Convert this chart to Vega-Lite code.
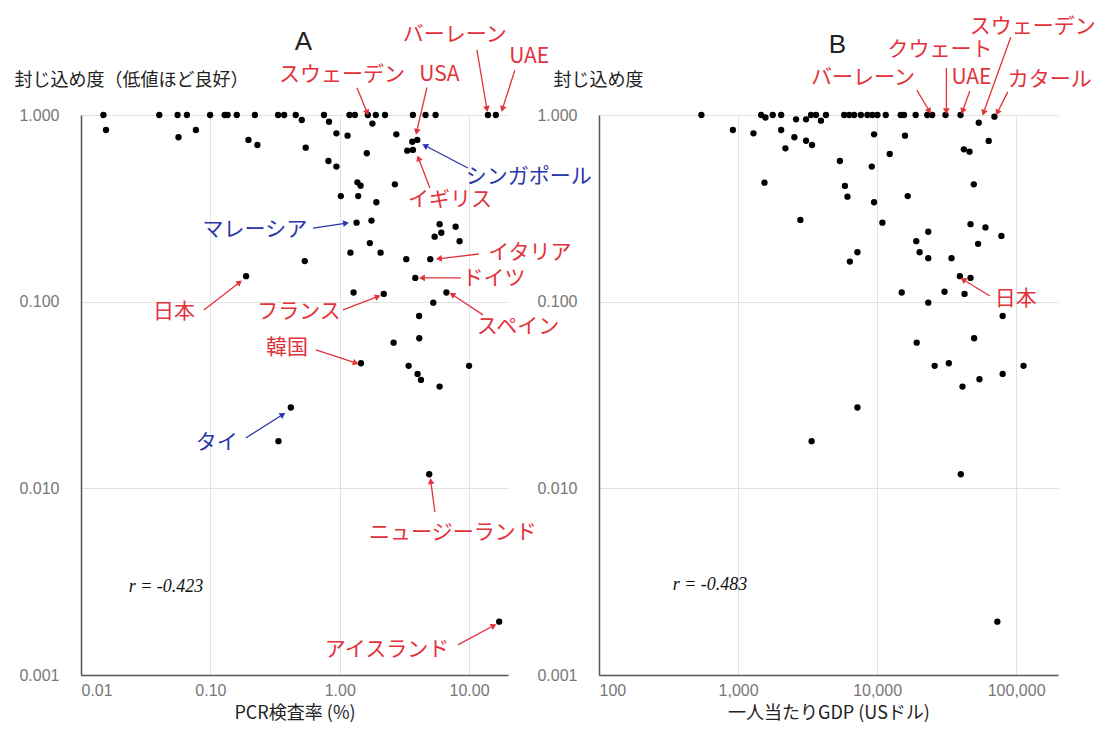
{
  "$schema": "https://vega.github.io/schema/vega-lite/v6.json",
  "autosize": {"type": "none"},
  "padding": {"left": 81, "top": 115, "right": 1025, "bottom": 616},
  "background": "white",
  "config": {
    "view": {"stroke": null},
    "font": "Liberation Sans",
    "axis": {
      "grid": true,
      "gridColor": "#e2e2e2",
      "gridWidth": 1,
      "domainColor": "#555555",
      "domainWidth": 1.5,
      "ticks": false,
      "labelFont": "Liberation Sans",
      "labelFontSize": 16,
      "labelColor": "#777777",
      "titleFont": "Noto Sans CJK JP",
      "titleFontSize": 18,
      "titleFontWeight": "normal",
      "titleColor": "#222222"
    },
    "title": {"font": "Liberation Sans", "fontSize": 26, "fontWeight": "normal", "color": "#222222"}
  },
  "datasets": {
    "pcr": [
      {"pcr_test_rate": 0.0149, "containment": 1},
      {"pcr_test_rate": 0.0403, "containment": 1},
      {"pcr_test_rate": 0.0558, "containment": 1},
      {"pcr_test_rate": 0.0659, "containment": 1},
      {"pcr_test_rate": 0.0996, "containment": 1},
      {"pcr_test_rate": 0.129, "containment": 1},
      {"pcr_test_rate": 0.136, "containment": 1},
      {"pcr_test_rate": 0.160, "containment": 1},
      {"pcr_test_rate": 0.221, "containment": 1},
      {"pcr_test_rate": 0.334, "containment": 1},
      {"pcr_test_rate": 0.372, "containment": 1},
      {"pcr_test_rate": 0.457, "containment": 1},
      {"pcr_test_rate": 0.509, "containment": 0.94},
      {"pcr_test_rate": 0.756, "containment": 1},
      {"pcr_test_rate": 0.827, "containment": 0.92},
      {"pcr_test_rate": 1.19, "containment": 1},
      {"pcr_test_rate": 1.31, "containment": 1},
      {"pcr_test_rate": 1.65, "containment": 1},
      {"pcr_test_rate": 1.79, "containment": 0.90},
      {"pcr_test_rate": 1.90, "containment": 1},
      {"pcr_test_rate": 2.24, "containment": 1},
      {"pcr_test_rate": 3.68, "containment": 1},
      {"pcr_test_rate": 4.61, "containment": 1},
      {"pcr_test_rate": 5.51, "containment": 1},
      {"pcr_test_rate": 14.0, "containment": 1},
      {"pcr_test_rate": 16.1, "containment": 1},
      {"pcr_test_rate": 0.0156, "containment": 0.831},
      {"pcr_test_rate": 0.0567, "containment": 0.760},
      {"pcr_test_rate": 0.0773, "containment": 0.831},
      {"pcr_test_rate": 0.197, "containment": 0.735},
      {"pcr_test_rate": 0.231, "containment": 0.691},
      {"pcr_test_rate": 0.546, "containment": 0.668},
      {"pcr_test_rate": 0.943, "containment": 0.798},
      {"pcr_test_rate": 1.15, "containment": 0.775},
      {"pcr_test_rate": 2.74, "containment": 0.788},
      {"pcr_test_rate": 3.64, "containment": 0.719},
      {"pcr_test_rate": 3.98, "containment": 0.735},
      {"pcr_test_rate": 3.33, "containment": 0.644},
      {"pcr_test_rate": 3.68, "containment": 0.650},
      {"pcr_test_rate": 1.62, "containment": 0.624},
      {"pcr_test_rate": 0.818, "containment": 0.567},
      {"pcr_test_rate": 0.943, "containment": 0.529},
      {"pcr_test_rate": 1.37, "containment": 0.436},
      {"pcr_test_rate": 1.45, "containment": 0.418},
      {"pcr_test_rate": 2.67, "containment": 0.425},
      {"pcr_test_rate": 1.02, "containment": 0.368},
      {"pcr_test_rate": 1.39, "containment": 0.368},
      {"pcr_test_rate": 1.92, "containment": 0.341},
      {"pcr_test_rate": 1.35, "containment": 0.265},
      {"pcr_test_rate": 1.76, "containment": 0.272},
      {"pcr_test_rate": 1.71, "containment": 0.206},
      {"pcr_test_rate": 1.21, "containment": 0.183},
      {"pcr_test_rate": 2.07, "containment": 0.183},
      {"pcr_test_rate": 0.537, "containment": 0.165},
      {"pcr_test_rate": 3.27, "containment": 0.169},
      {"pcr_test_rate": 5.01, "containment": 0.169},
      {"pcr_test_rate": 5.92, "containment": 0.260},
      {"pcr_test_rate": 7.87, "containment": 0.252},
      {"pcr_test_rate": 5.42, "containment": 0.223},
      {"pcr_test_rate": 6.10, "containment": 0.234},
      {"pcr_test_rate": 8.45, "containment": 0.211},
      {"pcr_test_rate": 3.84, "containment": 0.134},
      {"pcr_test_rate": 0.189, "containment": 0.137},
      {"pcr_test_rate": 1.28, "containment": 0.112},
      {"pcr_test_rate": 2.19, "containment": 0.110},
      {"pcr_test_rate": 6.68, "containment": 0.112},
      {"pcr_test_rate": 5.29, "containment": 0.0988},
      {"pcr_test_rate": 4.11, "containment": 0.0838},
      {"pcr_test_rate": 4.12, "containment": 0.0637},
      {"pcr_test_rate": 2.61, "containment": 0.0603},
      {"pcr_test_rate": 1.46, "containment": 0.0468},
      {"pcr_test_rate": 3.41, "containment": 0.0453},
      {"pcr_test_rate": 4.00, "containment": 0.0410},
      {"pcr_test_rate": 4.25, "containment": 0.0381},
      {"pcr_test_rate": 5.92, "containment": 0.0351},
      {"pcr_test_rate": 10.0, "containment": 0.0453},
      {"pcr_test_rate": 0.419, "containment": 0.0271},
      {"pcr_test_rate": 0.336, "containment": 0.0179},
      {"pcr_test_rate": 4.92, "containment": 0.0119},
      {"pcr_test_rate": 17.1, "containment": 0.00193}
    ],
    "gdp": [
      {"gdp_per_capita": 545, "containment": 1},
      {"gdp_per_capita": 1466, "containment": 1},
      {"gdp_per_capita": 1574, "containment": 0.97},
      {"gdp_per_capita": 1776, "containment": 1},
      {"gdp_per_capita": 2042, "containment": 1},
      {"gdp_per_capita": 2614, "containment": 0.948},
      {"gdp_per_capita": 3083, "containment": 0.948},
      {"gdp_per_capita": 3349, "containment": 1},
      {"gdp_per_capita": 3637, "containment": 1},
      {"gdp_per_capita": 3948, "containment": 0.932},
      {"gdp_per_capita": 4288, "containment": 1},
      {"gdp_per_capita": 5800, "containment": 1},
      {"gdp_per_capita": 6300, "containment": 1},
      {"gdp_per_capita": 6840, "containment": 1},
      {"gdp_per_capita": 7640, "containment": 1},
      {"gdp_per_capita": 8520, "containment": 1},
      {"gdp_per_capita": 9250, "containment": 1},
      {"gdp_per_capita": 10050, "containment": 1},
      {"gdp_per_capita": 11540, "containment": 1},
      {"gdp_per_capita": 14790, "containment": 1},
      {"gdp_per_capita": 15620, "containment": 1},
      {"gdp_per_capita": 18930, "containment": 1},
      {"gdp_per_capita": 22950, "containment": 1},
      {"gdp_per_capita": 24900, "containment": 1},
      {"gdp_per_capita": 31060, "containment": 1},
      {"gdp_per_capita": 39810, "containment": 1},
      {"gdp_per_capita": 53830, "containment": 0.909},
      {"gdp_per_capita": 69800, "containment": 0.98},
      {"gdp_per_capita": 918, "containment": 0.831},
      {"gdp_per_capita": 1291, "containment": 0.798},
      {"gdp_per_capita": 2042, "containment": 0.831},
      {"gdp_per_capita": 2541, "containment": 0.760},
      {"gdp_per_capita": 2191, "containment": 0.663},
      {"gdp_per_capita": 3083, "containment": 0.728},
      {"gdp_per_capita": 3404, "containment": 0.691},
      {"gdp_per_capita": 9510, "containment": 0.788},
      {"gdp_per_capita": 15870, "containment": 0.775},
      {"gdp_per_capita": 5400, "containment": 0.567},
      {"gdp_per_capita": 9160, "containment": 0.529},
      {"gdp_per_capita": 12330, "containment": 0.618},
      {"gdp_per_capita": 42070, "containment": 0.655},
      {"gdp_per_capita": 46200, "containment": 0.636},
      {"gdp_per_capita": 63500, "containment": 0.726},
      {"gdp_per_capita": 1549, "containment": 0.434},
      {"gdp_per_capita": 5870, "containment": 0.417},
      {"gdp_per_capita": 6120, "containment": 0.365},
      {"gdp_per_capita": 9510, "containment": 0.341},
      {"gdp_per_capita": 16600, "containment": 0.368},
      {"gdp_per_capita": 49600, "containment": 0.425},
      {"gdp_per_capita": 2806, "containment": 0.274},
      {"gdp_per_capita": 10920, "containment": 0.265},
      {"gdp_per_capita": 23330, "containment": 0.237},
      {"gdp_per_capita": 19140, "containment": 0.211},
      {"gdp_per_capita": 46970, "containment": 0.260},
      {"gdp_per_capita": 60140, "containment": 0.250},
      {"gdp_per_capita": 78340, "containment": 0.225},
      {"gdp_per_capita": 53240, "containment": 0.204},
      {"gdp_per_capita": 7220, "containment": 0.184},
      {"gdp_per_capita": 6370, "containment": 0.164},
      {"gdp_per_capita": 20230, "containment": 0.184},
      {"gdp_per_capita": 23330, "containment": 0.171},
      {"gdp_per_capita": 34280, "containment": 0.171},
      {"gdp_per_capita": 39360, "containment": 0.137},
      {"gdp_per_capita": 46970, "containment": 0.134},
      {"gdp_per_capita": 15030, "containment": 0.112},
      {"gdp_per_capita": 30550, "containment": 0.113},
      {"gdp_per_capita": 42540, "containment": 0.110},
      {"gdp_per_capita": 23330, "containment": 0.0988},
      {"gdp_per_capita": 80000, "containment": 0.0838},
      {"gdp_per_capita": 19260, "containment": 0.0603},
      {"gdp_per_capita": 49890, "containment": 0.0637},
      {"gdp_per_capita": 25940, "containment": 0.0453},
      {"gdp_per_capita": 32810, "containment": 0.0468},
      {"gdp_per_capita": 41120, "containment": 0.0351},
      {"gdp_per_capita": 54450, "containment": 0.0384},
      {"gdp_per_capita": 80000, "containment": 0.0410},
      {"gdp_per_capita": 113000, "containment": 0.0453},
      {"gdp_per_capita": 7220, "containment": 0.0271},
      {"gdp_per_capita": 3381, "containment": 0.0179},
      {"gdp_per_capita": 40000, "containment": 0.0119},
      {"gdp_per_capita": 73260, "containment": 0.00193}
    ],
    "annA": [
      {"label": "スウェーデン", "group": "other", "lx": 1.04, "ly": 1.64, "ax": 1.36, "ay": 1.40, "bx": 1.62, "by": 1.04},
      {"label": "USA", "group": "other", "lx": 5.89, "ly": 1.64, "ax": 4.72, "ay": 1.40, "bx": 3.95, "by": 0.821},
      {"label": "バーレーン", "group": "other", "lx": 7.76, "ly": 2.68, "ax": 11.5, "ay": 2.23, "bx": 13.7, "by": 1.09},
      {"label": "UAE", "group": "other", "lx": 29.2, "ly": 2.05, "ax": 22.6, "ay": 1.74, "bx": 18.2, "by": 1.09},
      {"label": "シンガポール", "group": "ASEAN", "lx": 29.0, "ly": 0.466, "ax": 9.79, "ay": 0.520, "bx": 4.63, "by": 0.682},
      {"label": "イギリス", "group": "other", "lx": 7.11, "ly": 0.350, "ax": 4.98, "ay": 0.406, "bx": 4.09, "by": 0.581},
      {"label": "マレーシア", "group": "ASEAN", "lx": 0.221, "ly": 0.242, "ax": 0.621, "ay": 0.248, "bx": 1.10, "by": 0.263},
      {"label": "イタリア", "group": "other", "lx": 29.5, "ly": 0.182, "ax": 11.9, "ay": 0.180, "bx": 5.94, "by": 0.170},
      {"label": "ドイツ", "group": "other", "lx": 15.6, "ly": 0.132, "ax": 8.65, "ay": 0.134, "bx": 4.40, "by": 0.134},
      {"label": "スペイン", "group": "other", "lx": 23.9, "ly": 0.0732, "ax": 12.8, "ay": 0.0850, "bx": 7.50, "by": 0.1086},
      {"label": "フランス", "group": "other", "lx": 0.484, "ly": 0.0881, "ax": 1.06, "ay": 0.0903, "bx": 1.94, "by": 0.106},
      {"label": "日本", "group": "other", "lx": 0.0524, "ly": 0.0881, "ax": 0.0892, "ay": 0.0903, "bx": 0.166, "by": 0.126},
      {"label": "韓国", "group": "other", "lx": 0.391, "ly": 0.0565, "ax": 0.654, "ay": 0.0551, "bx": 1.31, "by": 0.0471},
      {"label": "タイ", "group": "ASEAN", "lx": 0.112, "ly": 0.0175, "ax": 0.188, "ay": 0.0186, "bx": 0.358, "by": 0.0247},
      {"label": "ニュージーランド", "group": "other", "lx": 7.50, "ly": 0.00577, "ax": 5.44, "ay": 0.00748, "bx": 5.07, "by": 0.0108},
      {"label": "アイスランド", "group": "other", "lx": 2.32, "ly": 0.00136, "ax": 8.19, "ay": 0.00145, "bx": 15.3, "by": 0.00183}
    ],
    "annB": [
      {"label": "スウェーデン", "group": "other", "lx": 131800, "ly": 2.96, "ax": 91600, "ay": 2.62, "bx": 58600, "by": 1.04},
      {"label": "クウェート", "group": "other", "lx": 28290, "ly": 2.23, "ax": 31500, "ay": 1.785, "bx": 31500, "by": 1.06},
      {"label": "バーレーン", "group": "other", "lx": 7910, "ly": 1.58, "ax": 19320, "ay": 1.36, "bx": 23550, "by": 1.06},
      {"label": "UAE", "group": "other", "lx": 47750, "ly": 1.58, "ax": 46450, "ay": 1.345, "bx": 41400, "by": 1.06},
      {"label": "カタール", "group": "other", "lx": 174500, "ly": 1.54, "ax": 87100, "ay": 1.33, "bx": 73800, "by": 1.04},
      {"label": "日本", "group": "other", "lx": 99500, "ly": 0.1034, "ax": 64700, "ay": 0.1073, "bx": 42100, "by": 0.1306}
    ]
  },
  "spacing": 91,
  "bounds": "flush",
  "hconcat": [
    {
      "width": 427,
      "height": 560,
      "title": {"text": "A", "anchor": "middle", "frame": "group", "dx": 9, "offset": -31},
      "layer": [
        {
          "data": {"name": "pcr"},
          "mark": {"type": "circle", "size": 40, "color": "#000000", "opacity": 1},
          "encoding": {
            "x": {
              "field": "pcr_test_rate", "type": "quantitative",
              "scale": {"type": "log", "domain": [0.01, 20], "nice": false},
              "axis": {"values": [0.01, 0.1, 1, 10], "format": ".2f", "title": "PCR検査率 (%)", "labelPadding": 7, "titlePadding": 6}
            },
            "y": {
              "field": "containment", "type": "quantitative",
              "scale": {"type": "log", "domain": [0.001, 1], "nice": false},
              "axis": {"values": [0.001, 0.01, 0.1, 1], "format": ".3f", "title": "封じ込め度（低値ほど良好）", "titleAngle": 0, "titleAlign": "left", "titleBaseline": "middle", "titleX": -67, "titleY": -35, "labelPadding": 22}
            }
          }
        },
        {
          "data": {"name": "annA"},
          "mark": {"type": "rule", "strokeWidth": 1.3},
          "encoding": {
            "x": {"field": "ax", "type": "quantitative"},
            "y": {"field": "ay", "type": "quantitative"},
            "x2": {"field": "bx"},
            "y2": {"field": "by"},
            "color": {"field": "group", "type": "nominal", "scale": {"domain": ["other", "ASEAN"], "range": ["#e2323b", "#2b36a8"]}, "legend": null}
          }
        },
        {
          "data": {"name": "annA"},
          "transform": [
            {"calculate": "(360 + (180 / PI) * atan2((log(datum.bx) - log(datum.ax)) / LN10 * 129.35, (log(datum.by) - log(datum.ay)) / LN10 * 186.7)) % 360", "as": "head_angle"}
          ],
          "mark": {"type": "point", "shape": "triangle", "filled": true, "size": 45, "opacity": 1},
          "encoding": {
            "x": {"field": "bx", "type": "quantitative"},
            "y": {"field": "by", "type": "quantitative"},
            "angle": {"field": "head_angle", "type": "quantitative", "scale": null},
            "color": {"field": "group", "type": "nominal", "legend": null}
          }
        },
        {
          "data": {"name": "annA"},
          "mark": {"type": "text", "font": "Noto Sans CJK JP", "fontSize": 21, "align": "center", "baseline": "middle"},
          "encoding": {
            "x": {"field": "lx", "type": "quantitative"},
            "y": {"field": "ly", "type": "quantitative"},
            "text": {"field": "label"},
            "color": {"field": "group", "type": "nominal", "legend": null}
          }
        },
        {
          "data": {"values": [{"label": "r = -0.423", "lx": 0.0454, "ly": 0.00296}]},
          "mark": {"type": "text", "font": "Liberation Serif", "fontStyle": "italic", "fontSize": 18, "align": "center", "baseline": "middle", "color": "#111111"},
          "encoding": {
            "x": {"field": "lx", "type": "quantitative"},
            "y": {"field": "ly", "type": "quantitative"},
            "text": {"field": "label"}
          }
        }
      ]
    },
    {
      "width": 459,
      "height": 560,
      "title": {"text": "B", "anchor": "middle", "frame": "group", "dx": 9, "offset": -42},
      "layer": [
        {
          "data": {"name": "gdp"},
          "mark": {"type": "circle", "size": 40, "color": "#000000", "opacity": 1},
          "encoding": {
            "x": {
              "field": "gdp_per_capita", "type": "quantitative",
              "scale": {"type": "log", "domain": [100, 200000], "nice": false},
              "axis": {"values": [100, 1000, 10000, 100000], "format": ",", "title": "一人当たりGDP (USドル)", "labelPadding": 7, "titlePadding": 6}
            },
            "y": {
              "field": "containment", "type": "quantitative",
              "scale": {"type": "log", "domain": [0.001, 1], "nice": false},
              "axis": {"values": [0.001, 0.01, 0.1, 1], "format": ".3f", "title": "封じ込め度", "titleAngle": 0, "titleAlign": "left", "titleBaseline": "middle", "titleX": -46, "titleY": -35, "labelPadding": 22}
            }
          }
        },
        {
          "data": {"name": "annB"},
          "mark": {"type": "rule", "strokeWidth": 1.3},
          "encoding": {
            "x": {"field": "ax", "type": "quantitative"},
            "y": {"field": "ay", "type": "quantitative"},
            "x2": {"field": "bx"},
            "y2": {"field": "by"},
            "color": {"field": "group", "type": "nominal", "scale": {"domain": ["other", "ASEAN"], "range": ["#e2323b", "#2b36a8"]}, "legend": null}
          }
        },
        {
          "data": {"name": "annB"},
          "transform": [
            {"calculate": "(360 + (180 / PI) * atan2((log(datum.bx) - log(datum.ax)) / LN10 * 139.05, (log(datum.by) - log(datum.ay)) / LN10 * 186.7)) % 360", "as": "head_angle"}
          ],
          "mark": {"type": "point", "shape": "triangle", "filled": true, "size": 45, "opacity": 1},
          "encoding": {
            "x": {"field": "bx", "type": "quantitative"},
            "y": {"field": "by", "type": "quantitative"},
            "angle": {"field": "head_angle", "type": "quantitative", "scale": null},
            "color": {"field": "group", "type": "nominal", "legend": null}
          }
        },
        {
          "data": {"name": "annB"},
          "mark": {"type": "text", "font": "Noto Sans CJK JP", "fontSize": 21, "align": "center", "baseline": "middle"},
          "encoding": {
            "x": {"field": "lx", "type": "quantitative"},
            "y": {"field": "ly", "type": "quantitative"},
            "text": {"field": "label"},
            "color": {"field": "group", "type": "nominal", "legend": null}
          }
        },
        {
          "data": {"values": [{"label": "r = -0.483", "lx": 628, "ly": 0.00304}]},
          "mark": {"type": "text", "font": "Liberation Serif", "fontStyle": "italic", "fontSize": 18, "align": "center", "baseline": "middle", "color": "#111111"},
          "encoding": {
            "x": {"field": "lx", "type": "quantitative"},
            "y": {"field": "ly", "type": "quantitative"},
            "text": {"field": "label"}
          }
        }
      ]
    }
  ]
}
